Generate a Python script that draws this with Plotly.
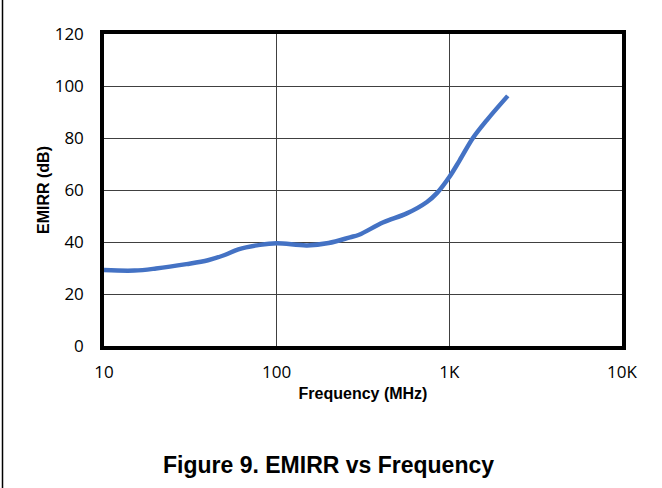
import plotly.graph_objects as go

freq_mhz = [10, 15, 20, 30, 40, 50, 60, 80, 100, 150, 200, 266, 300, 412, 567, 742, 847, 1000, 1150, 1370, 1650, 2180]
emirr_db = [29.2, 29.0, 29.8, 31.5, 33.0, 35.0, 37.2, 38.9, 39.5, 38.7, 39.6, 41.8, 42.8, 47.5, 51.0, 55.4, 58.8, 65.0, 71.5, 80.0, 86.9, 96.2]

x_tickvals = [10, 100, 1000, 10000]
x_ticktext = ["10", "100", "1K", "10K"]

fig = go.Figure()
fig.add_trace(go.Scatter(
    x=freq_mhz, y=emirr_db, mode="lines",
    line=dict(color="#4472C4", width=4.5, shape="spline", smoothing=1.0),
    showlegend=False, hoverinfo="skip"))

fig.update_layout(
    width=662, height=488,
    margin=dict(l=104, r=40, t=34, b=142),
    paper_bgcolor="white", plot_bgcolor="white",
    font=dict(family="Open Sans, Liberation Sans, Arial", color="#000000"),
    xaxis=dict(type="log", range=[1, 4], tickvals=x_tickvals, ticktext=x_ticktext,
               showgrid=True, gridcolor="#404040", gridwidth=1,
               showline=True, linecolor="black", linewidth=3.5, mirror=True,
               ticks="", tickfont=dict(size=17), zeroline=False, ticklabelstandoff=8,
               title=dict(text="<b>Frequency (MHz)</b>", font=dict(family="Liberation Sans, Arial", size=16, color="black"), standoff=7)),
    yaxis=dict(range=[0, 120], dtick=20, tick0=0,
               showgrid=True, gridcolor="#404040", gridwidth=1,
               showline=True, linecolor="black", linewidth=3.5, mirror=True,
               ticks="", tickfont=dict(size=17), zeroline=False, ticklabelstandoff=13,
               title=dict(text="<b>EMIRR (dB)</b>", font=dict(family="Liberation Sans, Arial", size=16, color="black"), standoff=2)),
)

fig.add_annotation(text="<b>Figure 9. EMIRR vs Frequency</b>", xref="paper", yref="paper",
                   x=(328 - 104) / 518, y=(346 - 465) / 312, xanchor="center", yanchor="middle",
                   showarrow=False, font=dict(family="Liberation Sans, Arial", size=23, color="black"))

fig.add_shape(type="line", xref="paper", yref="paper",
              x0=(2.5 - 104) / 518, x1=(2.5 - 104) / 518, y0=(346 - 0) / 312, y1=(346 - 488) / 312,
              line=dict(color="black", width=1.5))

fig.write_html("out.html")
